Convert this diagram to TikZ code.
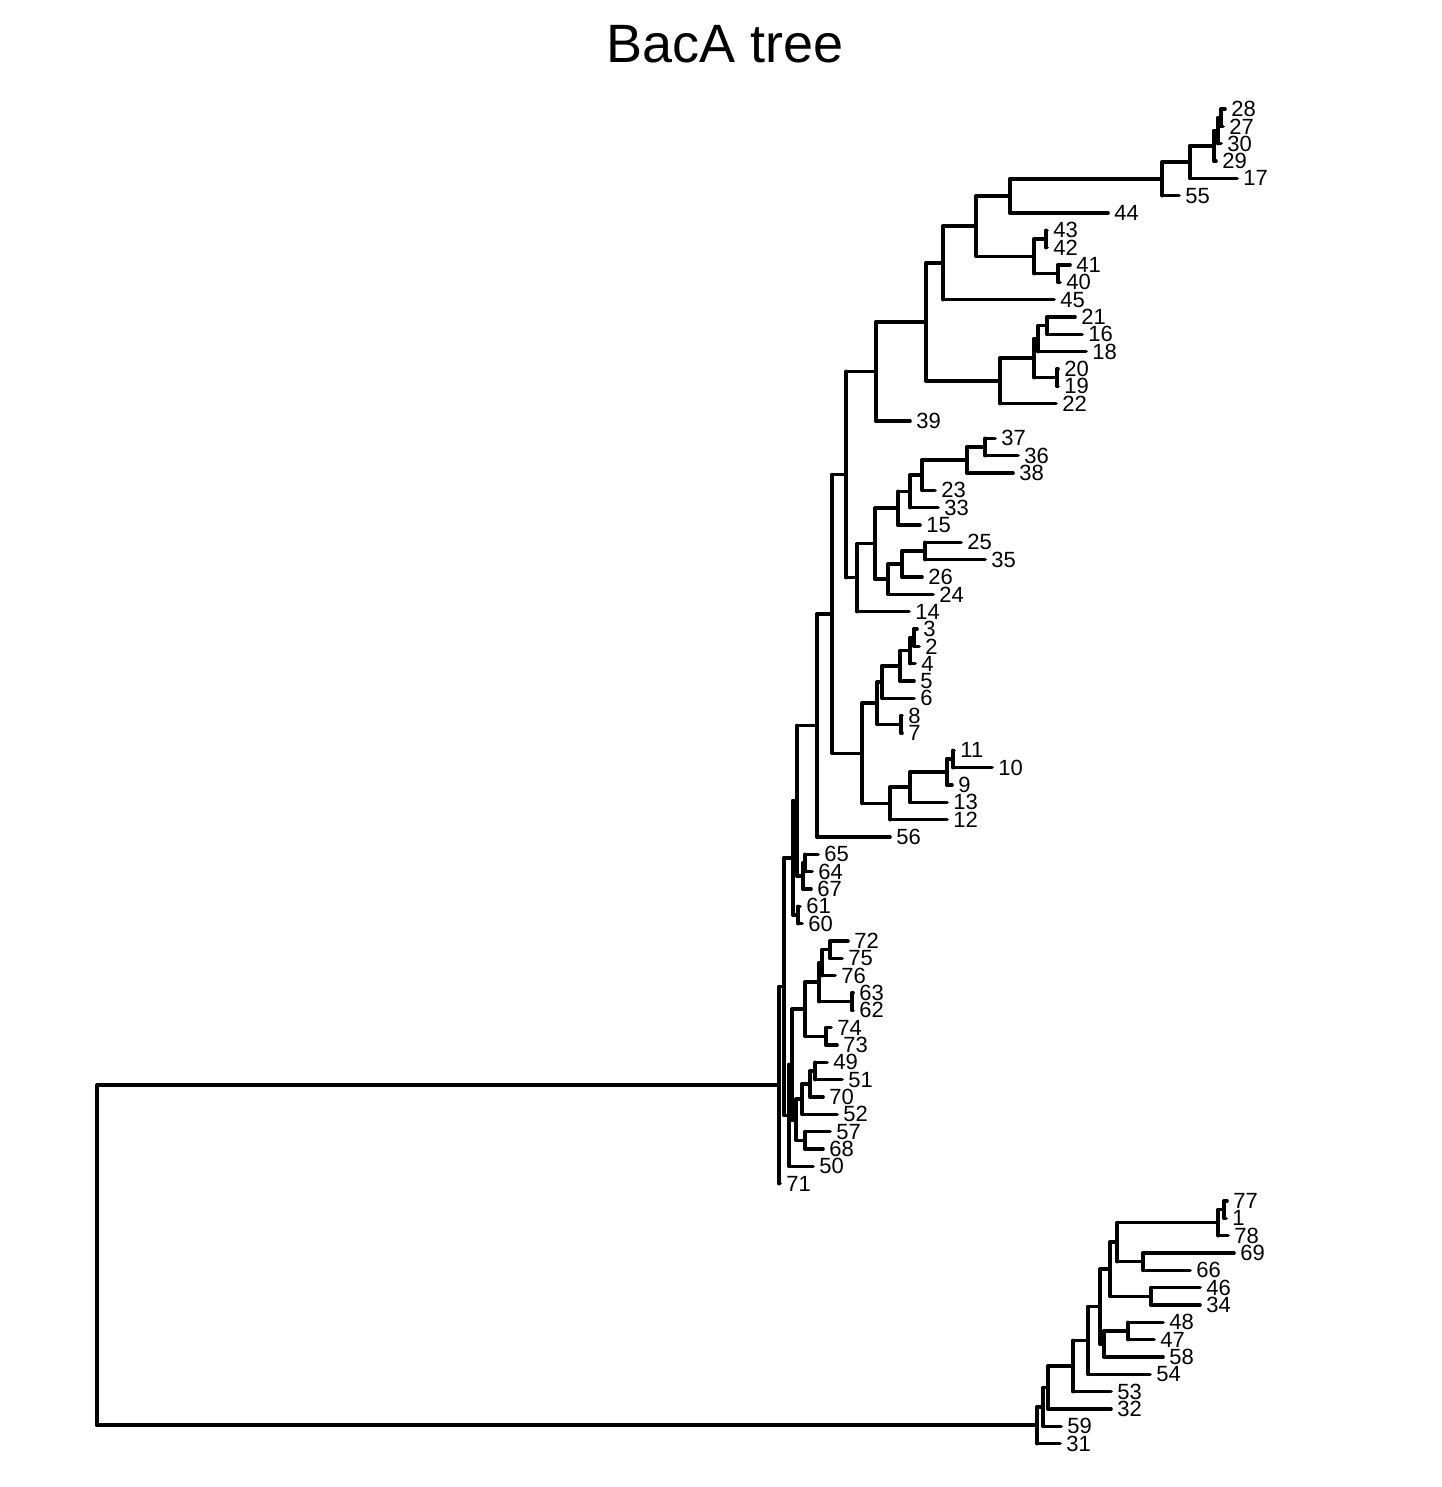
\documentclass[tikz,border=0pt]{standalone}
\usepackage{fontspec}
\setmainfont{Liberation Sans}
\usetikzlibrary{calc}
\tikzset{
  br/.style={line width=1.8pt, line cap=round, black},
  lab/.style={anchor=west, inner sep=0pt, xshift=3pt, font=\fontsize{11}{12}\selectfont},
}
\newcommand\lf[3]{%
  \coordinate (t#1) at (#2,{109+(#3-1)*17.333});
  \node[lab] (l#1) at (t#1) {#1};
}
\newcommand\nd[4]{%
  \coordinate (#1m) at ($(#3)!0.5!(#4)$);
  \coordinate (#1x) at (#2,0);
  \coordinate (#1) at (#1x |- #1m);
  \draw[br] (#1 |- #3) -- (#1 |- #4);
  \draw[br] (#1 |- #3) -- (#3);
  \draw[br] (#1 |- #4) -- (#4);
}
\begin{document}
\begin{tikzpicture}[x=0.5pt,y=-0.5pt]
\fill[white] (0,0) rectangle (1441,1487);
\useasboundingbox (0,0) rectangle (1441,1487);
\node[font=\fontsize{27}{30}\selectfont, anchor=base] (title) at (725,63) {BacA tree};
% leaves
\lf{28}{1225}{1}
\lf{27}{1223}{2}
\lf{30}{1221}{3}
\lf{29}{1216}{4}
\lf{17}{1237}{5}
\lf{55}{1179}{6}
\lf{44}{1108}{7}
\lf{43}{1047}{8}
\lf{42}{1047}{9}
\lf{41}{1070}{10}
\lf{40}{1060}{11}
\lf{45}{1054}{12}
\lf{21}{1075}{13}
\lf{16}{1082}{14}
\lf{18}{1086}{15}
\lf{20}{1058}{16}
\lf{19}{1058}{17}
\lf{22}{1056}{18}
\lf{39}{910}{19}
\lf{37}{995}{20}
\lf{36}{1018}{21}
\lf{38}{1013}{22}
\lf{23}{935}{23}
\lf{33}{938}{24}
\lf{15}{920}{25}
\lf{25}{961}{26}
\lf{35}{985}{27}
\lf{26}{922}{28}
\lf{24}{933}{29}
\lf{14}{909}{30}
\lf{3}{917}{31}
\lf{2}{919}{32}
\lf{4}{915}{33}
\lf{5}{914}{34}
\lf{6}{914}{35}
\lf{8}{902}{36}
\lf{7}{902}{37}
\lf{11}{954}{38}
\lf{10}{992}{39}
\lf{9}{952}{40}
\lf{13}{947}{41}
\lf{12}{947}{42}
\lf{56}{890}{43}
\lf{65}{818}{44}
\lf{64}{812}{45}
\lf{67}{811}{46}
\lf{61}{800}{47}
\lf{60}{802}{48}
\lf{72}{848}{49}
\lf{75}{842}{50}
\lf{76}{835}{51}
\lf{63}{853}{52}
\lf{62}{853}{53}
\lf{74}{831}{54}
\lf{73}{837}{55}
\lf{49}{827}{56}
\lf{51}{842}{57}
\lf{70}{823}{58}
\lf{52}{837}{59}
\lf{57}{830}{60}
\lf{68}{823}{61}
\lf{50}{813}{62}
\lf{71}{780}{63}
\lf{77}{1227}{64}
\lf{1}{1226}{65}
\lf{78}{1228}{66}
\lf{69}{1234}{67}
\lf{66}{1190}{68}
\lf{46}{1200}{69}
\lf{34}{1200}{70}
\lf{48}{1163}{71}
\lf{47}{1154}{72}
\lf{58}{1163}{73}
\lf{54}{1150}{74}
\lf{53}{1111}{75}
\lf{32}{1111}{76}
\lf{59}{1061}{77}
\lf{31}{1060}{78}
% internal nodes: upper clade
\nd{aa}{1221}{t28}{t27}
\nd{ab}{1218}{aa}{t30}
\nd{ac}{1214}{ab}{t29}
\nd{ad}{1190}{ac}{t17}
\nd{ae}{1162}{ad}{t55}
\nd{af}{1010}{ae}{t44}
\nd{ba}{1046}{t43}{t42}
\nd{bb}{1058}{t41}{t40}
\nd{bc}{1034}{ba}{bb}
\nd{ag}{976}{af}{bc}
\nd{ah}{943}{ag}{t45}
\nd{ca}{1047}{t21}{t16}
\nd{cb}{1038}{ca}{t18}
\nd{cc}{1057}{t20}{t19}
\nd{cd}{1034}{cb}{cc}
\nd{ce}{1000}{cd}{t22}
\nd{ai}{926}{ah}{ce}
\nd{aj}{876}{ai}{t39}
\nd{da}{985}{t37}{t36}
\nd{db}{967}{da}{t38}
\nd{dc}{922}{db}{t23}
\nd{dd}{910}{dc}{t33}
\nd{de}{898}{dd}{t15}
\nd{ea}{925}{t25}{t35}
\nd{eb}{902}{ea}{t26}
\nd{ec}{888}{eb}{t24}
\nd{df}{875}{de}{ec}
\nd{dg}{857}{df}{t14}
\nd{ak}{846}{aj}{dg}
\nd{fa}{914}{t3}{t2}
\nd{fb}{910}{fa}{t4}
\nd{fc}{900}{fb}{t5}
\nd{fd}{882}{fc}{t6}
\nd{fe}{901}{t8}{t7}
\nd{ff}{877}{fd}{fe}
\nd{ga}{953}{t11}{t10}
\nd{gb}{947}{ga}{t9}
\nd{gc}{910}{gb}{t13}
\nd{gd}{890}{gc}{t12}
\nd{ha}{862}{ff}{gd}
\nd{al}{832}{ak}{ha}
\nd{am}{817}{al}{t56}
\nd{ia}{805}{t65}{t64}
\nd{ib}{803}{ia}{t67}
\nd{an}{797}{am}{ib}
\nd{ja}{798}{t61}{t60}
\nd{ao}{793}{an}{ja}
\nd{ka}{830}{t72}{t75}
\nd{kb}{822}{ka}{t76}
\nd{kc}{852}{t63}{t62}
\nd{kd}{819}{kb}{kc}
\nd{ke}{826}{t74}{t73}
\nd{kf}{805}{kd}{ke}
\nd{ma}{815}{t49}{t51}
\nd{mb}{810}{ma}{t70}
\nd{mc}{802}{mb}{t52}
\nd{md}{805}{t57}{t68}
\nd{me}{796}{mc}{md}
\nd{kg}{792}{kf}{me}
\nd{kh}{789}{kg}{t50}
\nd{ap}{784}{ao}{kh}
\nd{aq}{779}{ap}{t71}
% lower clade
\nd{na}{1224}{t77}{t1}
\nd{nb}{1218}{na}{t78}
\nd{nc}{1143}{t69}{t66}
\nd{nd}{1117}{nb}{nc}
\nd{ne}{1151}{t46}{t34}
\nd{nf}{1110}{nd}{ne}
\nd{ng}{1128}{t48}{t47}
\nd{nh}{1104}{ng}{t58}
\nd{ni}{1100}{nf}{nh}
\nd{nj}{1088}{ni}{t54}
\nd{nk}{1073}{nj}{t53}
\nd{nl}{1048}{nk}{t32}
\nd{nm}{1043}{nl}{t59}
\nd{nn}{1037}{nm}{t31}
% root
\nd{root}{97}{aq}{nn}
\end{tikzpicture}
\end{document}
